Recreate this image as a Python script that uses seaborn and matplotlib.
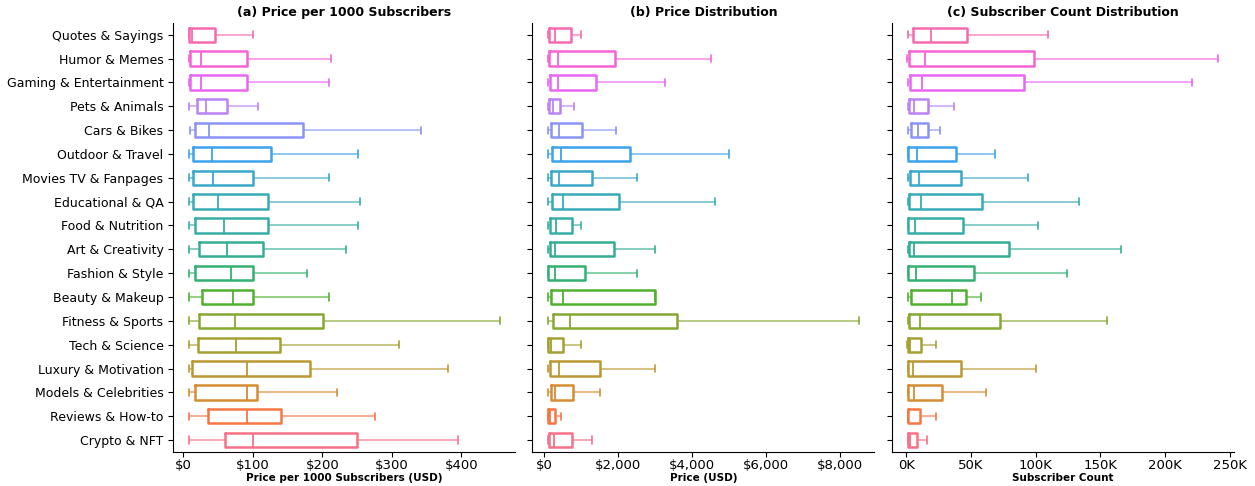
import numpy as np
import pandas as pd
import seaborn as sns
import matplotlib.pyplot as plt
from matplotlib.ticker import FuncFormatter

# categories, top to bottom
categorias = ["Quotes & Sayings", "Humor & Memes", "Gaming & Entertainment", "Pets & Animals",
              "Cars & Bikes", "Outdoor & Travel", "Movies TV & Fanpages", "Educational & QA",
              "Food & Nutrition", "Art & Creativity", "Fashion & Style", "Beauty & Makeup",
              "Fitness & Sports", "Tech & Science", "Luxury & Motivation", "Models & Celebrities",
              "Reviews & How-to", "Crypto & NFT"]

# five-number summaries: [min, q1, median, q3, max]
precio_1000 = [
    [8, 8, 13, 46, 100], [8, 9.5, 26, 92, 212], [8, 10, 26, 92, 209], [8, 20.5, 33, 63, 108],
    [10.5, 17, 37, 172, 342], [8, 14, 41, 126, 251], [8, 14, 43.5, 100.5, 209], [8, 14, 50, 122, 254],
    [8, 17, 58, 122, 251], [8, 23, 63, 115, 234], [8, 17, 69, 100, 178], [9, 27, 71, 101, 209],
    [8, 23, 74, 201, 455], [8, 21, 76, 139, 310], [8, 12, 91.5, 183, 380], [8, 16.5, 91.5, 106.5, 221],
    [8, 35, 91.5, 140, 276], [8, 60, 100, 250, 395],
]
precio = [
    [100, 120, 280, 710, 1000], [100, 140, 370, 1920, 4500], [100, 150, 380, 1410, 3250], [100, 130, 250, 420, 800],
    [100, 190, 410, 1010, 1950], [100, 200, 440, 2310, 5000], [100, 170, 410, 1290, 2500], [100, 200, 500, 2010, 4600],
    [100, 150, 330, 760, 1000], [100, 150, 300, 1890, 3000], [100, 100, 300, 1110, 2500], [100, 180, 500, 3000, 3000],
    [100, 250, 700, 3590, 8500], [100, 110, 190, 510, 1000], [100, 150, 400, 1500, 3000], [100, 170, 300, 770, 1500],
    [100, 110, 150, 290, 450], [100, 130, 260, 760, 1300],
]
suscriptores = [
    [800, 5400, 18900, 47000, 109500], [500, 2300, 14700, 98700, 241000], [800, 2600, 11900, 91200, 221000],
    [800, 2300, 5700, 16800, 36400], [1000, 3400, 9000, 16800, 26100], [800, 1300, 8300, 38500, 68200],
    [800, 2800, 9600, 42400, 93800], [800, 1800, 10900, 58400, 133600], [800, 1000, 6700, 43900, 101500],
    [800, 1800, 6200, 79000, 165600], [800, 1000, 7500, 52500, 123800], [800, 3600, 34900, 46000, 57600],
    [800, 1800, 10100, 72600, 154800], [500, 1300, 3100, 10900, 23000], [800, 800, 5400, 41900, 100300],
    [800, 800, 5900, 27100, 61800], [800, 800, 1300, 10100, 23000], [800, 800, 2600, 7800, 15800],
]

def a_largo(resumenes, columna):
    filas = []
    for cat, vals in zip(categorias, resumenes):
        for v in vals:
            filas.append({"category": cat, columna: v})
    return pd.DataFrame(filas)

colores = sns.husl_palette(len(categorias))
paleta = dict(zip(categorias[::-1], colores))

sns.set_style("ticks")
plt.rcParams.update({"text.color": "black", "axes.labelcolor": "black",
                     "xtick.color": "black", "ytick.color": "black",
                     "axes.edgecolor": "black"})
fig, axes = plt.subplots(1, 3, figsize=(12.55, 4.86), dpi=100, sharey=True)
plt.subplots_adjust(left=0.138, right=0.983, bottom=0.07, top=0.953, wspace=0.05)

paneles = [
    (precio_1000, "ppk", "(a) Price per 1000 Subscribers", "Price per 1000 Subscribers (USD)",
     FuncFormatter(lambda x, p: f"${x:,.0f}")),
    (precio, "price", "(b) Price Distribution", "Price (USD)",
     FuncFormatter(lambda x, p: f"${x:,.0f}")),
    (suscriptores, "subs", "(c) Subscriber Count Distribution", "Subscriber Count",
     FuncFormatter(lambda x, p: f"{x/1000:.0f}K")),
]

for ax, (datos, col, titulo, etiqueta, fmt) in zip(axes, paneles):
    df = a_largo(datos, col)
    sns.boxplot(data=df, x=col, y="category", hue="category", order=categorias,
                palette=paleta, legend=False, fill=False, showfliers=False,
                whis=(0, 100), width=0.6, linewidth=1.8,
                whiskerprops={"alpha": 0.65, "linewidth": 1.3},
                capprops={"linewidth": 1.2},
                medianprops={"linewidth": 1.3}, ax=ax)
    ax.set_title(titulo, fontsize=9, fontweight="bold", pad=5)
    ax.set_xlabel(etiqueta, fontsize=7.5, fontweight="bold", labelpad=1)
    ax.set_ylabel("")
    ax.xaxis.set_major_formatter(fmt)
    ax.tick_params(axis="x", labelsize=9.5, pad=1.5)
    ax.tick_params(axis="y", labelsize=9)
    sns.despine(ax=ax)

axes[1].set_xticks([0, 2000, 4000, 6000, 8000])
axes[2].set_xticks([0, 50000, 100000, 150000, 200000, 250000])
axes[2].set_xlim(right=253000)

plt.savefig("out.png", dpi=100)
